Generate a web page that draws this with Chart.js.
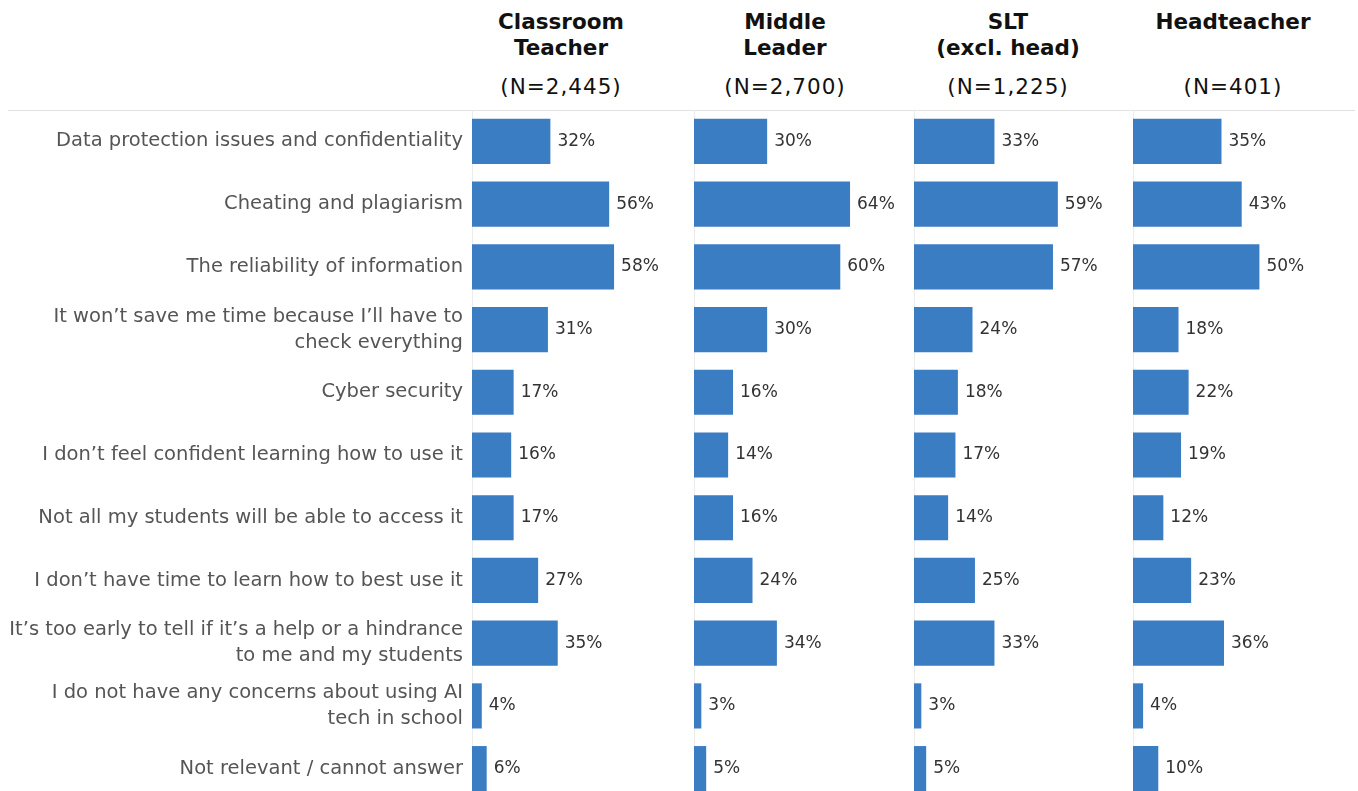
<!DOCTYPE html>
<html>
<head>
<meta charset="utf-8">
<script src="https://cdn.jsdelivr.net/npm/chart.js@4/dist/chart.umd.min.js"></script>
<style>
  html, body { margin: 0; padding: 0; background: #fff; overflow: hidden; }
  #page { position: relative; width: 1358px; height: 791px; overflow: hidden; }
  .panel { position: absolute; top: 110px; }
  .head { position: absolute; width: 240px; text-align: center; color: #111;
          font-family: "DejaVu Sans", sans-serif; }
  .head .name { position: absolute; left: 0; right: 0; font-weight: bold; font-size: 21.5px; line-height: 26px; }
  .head .n { position: absolute; left: 0; right: 0; top: 74px; font-size: 21.5px; line-height: 26px; letter-spacing: 1px; }
  #rule { position: absolute; left: 8px; width: 1347px; top: 110px; border-top: 1px solid #e2e2e2; }
</style>
</head>
<body>
<div id="page">
  <div id="rule"></div>
  <canvas id="c0" class="panel" style="left:0px" width="690" height="690"></canvas>
  <canvas id="c1" class="panel" style="left:693px" width="218" height="690"></canvas>
  <canvas id="c2" class="panel" style="left:913px" width="218" height="690"></canvas>
  <canvas id="c3" class="panel" style="left:1132px" width="226" height="690"></canvas>
</div>
<script>
const categories = [
  "Data protection issues and confidentiality",
  "Cheating and plagiarism",
  "The reliability of information",
  ["It won\u2019t save me time because I\u2019ll have to", "check everything"],
  "Cyber security",
  "I don\u2019t feel confident learning how to use it",
  "Not all my students will be able to access it",
  "I don\u2019t have time to learn how to best use it",
  ["It\u2019s too early to tell if it\u2019s a help or a hindrance", "to me and my students"],
  ["I do not have any concerns about using AI", "tech in school"],
  "Not relevant / cannot answer"
];

const classroomTeacher = [32, 56, 58, 31, 17, 16, 17, 27, 35, 4, 6];
const middleLeader     = [30, 64, 60, 30, 16, 14, 16, 24, 34, 3, 5];
const sltExclHead      = [33, 59, 57, 24, 18, 17, 14, 25, 33, 3, 5];
const headteacher      = [35, 43, 50, 18, 22, 19, 12, 23, 36, 4, 10];

const groupNames = [["Classroom", "Teacher"], ["Middle", "Leader"], ["SLT", "(excl. head)"], ["Headteacher"]];
const groupSizes = ["(N=2,445)", "(N=2,700)", "(N=1,225)", "(N=401)"];

const series = [classroomTeacher, middleLeader, sltExclHead, headteacher];
const headCentres = [561, 785, 1008, 1233];
const barColour = "#3b7dc3";

// column headings
const page = document.getElementById("page");
groupNames.forEach((lines, i) => {
  const h = document.createElement("div");
  h.className = "head";
  h.style.left = (headCentres[i] - 120) + "px";
  h.style.top = "0px";
  lines.forEach((t, k) => {
    const s = document.createElement("div");
    s.className = "name";
    s.style.top = (9 + k * 26) + "px";
    s.textContent = t;
    h.appendChild(s);
  });
  const n = document.createElement("div");
  n.className = "n";
  n.textContent = groupSizes[i];
  h.appendChild(n);
  page.appendChild(h);
});

// percentage text at the end of each bar
const valueLabels = {
  id: "valueLabels",
  afterDatasetsDraw(chart) {
    const ctx = chart.ctx;
    const meta = chart.getDatasetMeta(0);
    const data = chart.data.datasets[0].data;
    ctx.save();
    ctx.font = "17px 'DejaVu Sans', sans-serif";
    ctx.fillStyle = "#333";
    ctx.textBaseline = "middle";
    ctx.textAlign = "left";
    meta.data.forEach((bar, i) => {
      ctx.fillText(data[i] + "%", bar.x + 7, bar.y);
    });
    ctx.restore();
  }
};

series.forEach((values, i) => {
  const first = i === 0;
  new Chart(document.getElementById("c" + i), {
    type: "bar",
    data: {
      labels: categories,
      datasets: [{
        data: values,
        backgroundColor: barColour,
        borderWidth: 0,
        categoryPercentage: 1,
        barPercentage: 0.72
      }]
    },
    options: {
      indexAxis: "y",
      responsive: false,
      maintainAspectRatio: false,
      animation: false,
      devicePixelRatio: 1,
      layout: { padding: 0 },
      plugins: { legend: { display: false }, tooltip: { enabled: false } },
      scales: {
        x: { display: false, min: 0, max: 89 },
        y: {
          grid: { display: false, drawTicks: false },
          border: { display: true, color: "#ececec", dash: [2, 2] },
          ticks: {
            display: first,
            autoSkip: false,
            color: "#555",
            padding: 9,
            font: { family: "'DejaVu Sans', sans-serif", size: 19.5, lineHeight: 1.33 }
          },
          afterFit(scale) {
            scale.width = first ? 472 : 1;
            scale.paddingTop = 0;
            scale.paddingBottom = 0;
          }
        }
      }
    },
    plugins: [valueLabels]
  });
});
</script>
</body>
</html>
